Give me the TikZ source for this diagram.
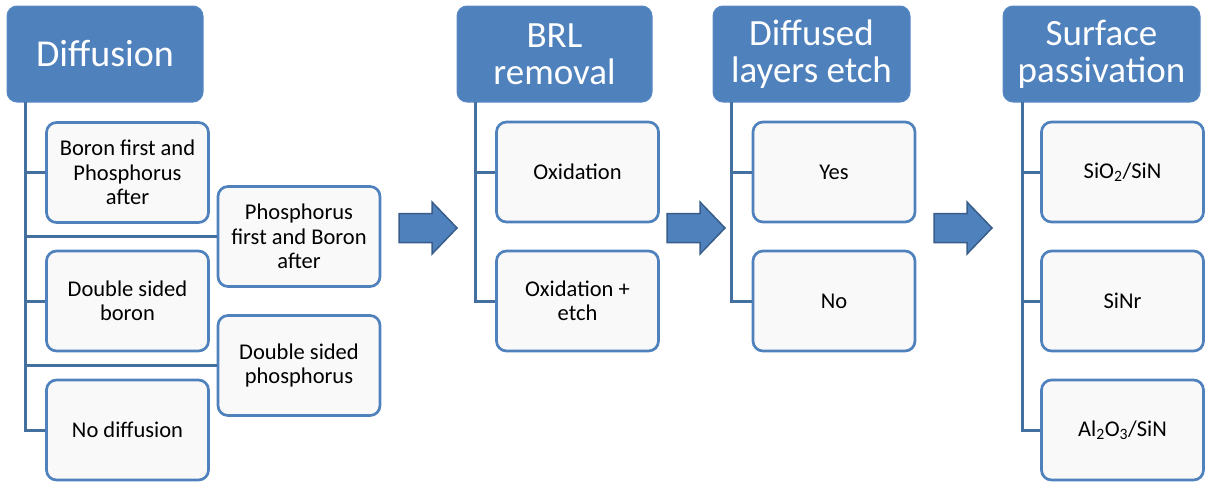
\documentclass[tikz,border=0pt]{standalone}
\usepackage{fontspec}
\setmainfont{Carlito}
\definecolor{hdr}{HTML}{4F81BD}
\definecolor{hdredge}{HTML}{5A8AC6}
\definecolor{boxedge}{HTML}{4F81BD}
\definecolor{boxfill}{HTML}{F9F9F9}
\definecolor{linec}{HTML}{44709F}
\definecolor{arrowedge}{HTML}{385D8A}
\tikzset{
  header/.style={draw=hdredge, line width=1pt, fill=hdr, rounded corners=10pt,
    text=white, align=center, inner sep=0pt,
    font=\fontsize{37}{37}\selectfont},
  child/.style={draw=boxedge, line width=2.7pt, fill=boxfill, rounded corners=10pt,
    align=center, inner sep=0pt,
    minimum width=162pt, minimum height=100pt,
    font=\fontsize{22.5}{24.5}\selectfont},
  conn/.style={draw=linec, line width=3pt},
  blockarrow/.pic={
    \draw[fill=hdr, draw=arrowedge, line width=1.5pt, line join=miter]
      (0,-14.5) -- (33,-14.5) -- (33,-26) -- (58,0) -- (33,26) -- (33,14.5) -- (0,14.5) -- cycle;
  }
}
\begin{document}
\begin{tikzpicture}[x=1pt,y=-1pt]
\useasboundingbox (0,0) rectangle (1208,482);

% ---------- Diffusion ----------
\node[header, minimum width=196pt, minimum height=96pt, font=\fontsize{38}{38}\selectfont] (hd) at (105,54) {Diffusion};
\coordinate (td) at (25,102);
\node[child] (d1) at (127.5,172.5) {Boron first and\\Phosphorus\\after};
\node[child] (d2) at (299,236.5) {Phosphorus\\first and Boron\\after};
\node[child] (d3) at (127.5,301) {Double sided\\boron};
\node[child] (d4) at (299,365.5) {Double sided\\phosphorus};
\node[child] (d5) at (127.5,430) {No diffusion};
\foreach \c in {d1,d2,d3,d4,d5} \draw[conn] (td) |- (\c.west);

\pic at (399,228) {blockarrow};

% ---------- BRL removal ----------
\node[header, minimum width=195pt, minimum height=96pt] (hb) at (554.5,54) {BRL\\removal};
\coordinate (tb) at (475,102);
\node[child] (b1) at (577.5,172) {Oxidation};
\node[child] (b2) at (577.5,301) {Oxidation +\\etch};
\foreach \c in {b1,b2} \draw[conn] (tb) |- (\c.west);

\pic at (667,228) {blockarrow};

% ---------- Diffused layers etch ----------
\node[header, minimum width=197pt, minimum height=96pt] (he) at (811.5,54) {Diffused\\layers etch};
\coordinate (te) at (731,102);
\node[child] (e1) at (834,172) {Yes};
\node[child] (e2) at (834,301) {No};
\foreach \c in {e1,e2} \draw[conn] (te) |- (\c.west);

\pic at (934,228) {blockarrow};

% ---------- Surface passivation ----------
\node[header, minimum width=197pt, minimum height=96pt] (hs) at (1101.5,54) {Surface\\passivation};
\coordinate (ts) at (1022,102);
\node[child] (s1) at (1122.5,172) {SiO\textsubscript{2}/SiN};
\node[child] (s2) at (1122.5,301) {SiNr};
\node[child] (s3) at (1122.5,430) {Al\textsubscript{2}O\textsubscript{3}/SiN};
\foreach \c in {s1,s2,s3} \draw[conn] (ts) |- (\c.west);
\end{tikzpicture}
\end{document}
